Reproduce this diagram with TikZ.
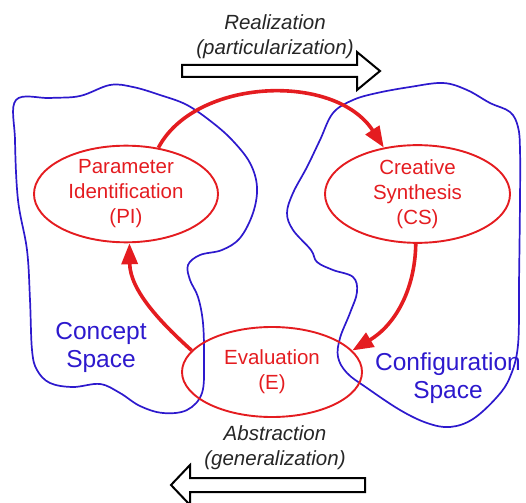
\documentclass[tikz,border=0pt]{standalone}
\usepackage{fontspec}
\setmainfont{Liberation Sans}
\usetikzlibrary{shapes.geometric,arrows.meta}
\definecolor{cred}{RGB}{228,28,32}
\definecolor{cblue}{RGB}{45,25,205}
\tikzset{
  proc/.style={ellipse,draw=cred,line width=1.9pt,inner sep=0pt,text=cred,align=center,
     font=\fontsize{20.5}{25}\selectfont},
  flow/.style={draw=cred,line width=3.6pt,-{Triangle[length=21pt,width=16pt]}},
  space/.style={draw=cblue,line width=1.7pt},
  spacelbl/.style={text=cblue,align=center,font=\fontsize{24.5}{28}\selectfont},
  dirlbl/.style={align=center,font=\fontsize{20.5}{25}\selectfont\itshape,text=black!85},
  block/.style={draw=black,line width=2pt,fill=white,line join=miter}
}
\begin{document}
\begin{tikzpicture}[x=1pt,y=-1pt]
\useasboundingbox (0,0) rectangle (526,502);
\clip (0,0) rectangle (526,502);
% concept space blob
\draw[space] plot[smooth cycle,tension=0.6] coordinates {
 (16,100) (50,98) (80,96) (110,85) (133,87) (160,95) (187,105) (213,123) (233,141)
 (250,163) (257,187) (253,213) (240,238) (222,250) (200,255) (188,265) (190,280)
 (198,297) (203,323) (204,360) (202,393) (187,410) (163,413) (140,406) (120,393)
 (100,384) (73,387) (50,383) (37,370) (32,350) (30,300) (27,250) (18,200) (15,140)};
% configuration space blob
\draw[space] plot[smooth cycle,tension=0.6] coordinates {
 (333,113) (353,100) (377,93) (410,87) (443,83) (467,90) (490,103) (510,112)
 (518,127) (520,150) (520,200) (519,283) (518,345) (510,377) (497,397) (473,419)
 (450,427) (427,423) (400,410) (367,388) (347,373) (338,357) (340,338) (350,313)
 (357,292) (353,277) (333,270) (317,262) (311,250) (293,230) (287,213) (293,193)
 (307,167) (320,140)};
% processes
\node[proc,minimum width=184pt,minimum height=92pt] (pi) at (126,194)
  {Parameter\\Identification\\(PI)};
\node[proc,minimum width=185pt,minimum height=92pt] (cs) at (417.5,194)
  {Creative\\Synthesis\\(CS)};
\node[proc,minimum width=180pt,minimum height=90pt] (ev) at (272,372)
  {Evaluation\\(E)};
% space labels
\node[spacelbl] (csp) at (101,347) {Concept\\Space};
\node[spacelbl] (cfg) at (448,378) {Configuration\\Space};
% cycle arrows
\draw[flow] (pi.55) .. controls (195,78) and (335,72) .. (cs.126);
\draw[flow] (cs.-92) .. controls (415,290) and (395,325) .. (ev.15);
\draw[flow] (ev.165) .. controls (160,322) and (130,290) .. (pi.-86);
% direction labels and block arrows
\node[dirlbl] (real) at (275,37) {Realization\\(particularization)};
\node[dirlbl] (abst) at (275,448) {Abstraction\\(generalization)};
\draw[block] (182,65) -- (357,65) -- (357,52) -- (380,71) -- (357,90) -- (357,77) -- (182,77) -- cycle;
\draw[block] (365,478) -- (190,478) -- (190,465) -- (171,485) -- (190,505) -- (190,492) -- (365,492) -- cycle;
\end{tikzpicture}
\end{document}
